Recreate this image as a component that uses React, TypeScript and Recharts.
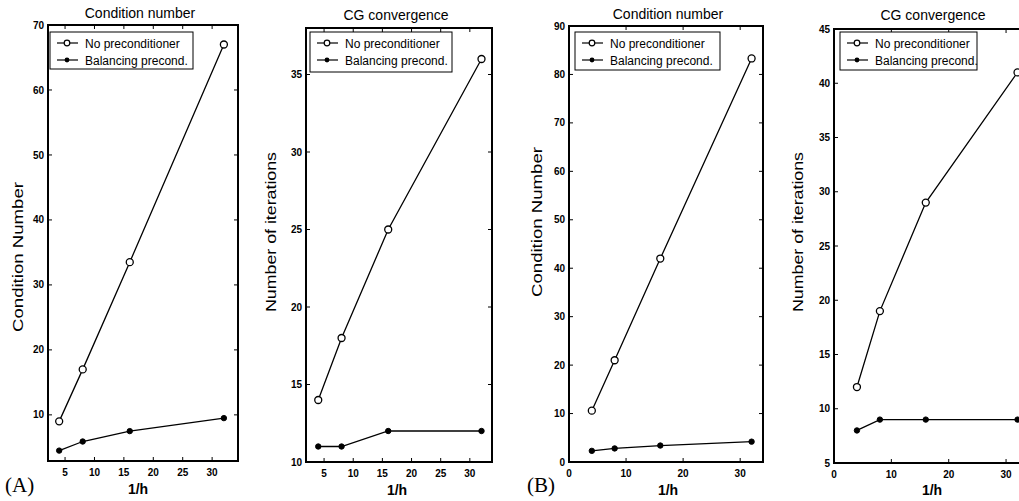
import React from 'react';
import { LineChart, Line, XAxis, YAxis } from 'recharts';

// 1/h sample points, shared by every panel
const invH = [4, 8, 16, 32];

// (A) condition number
const condNoneA = [9, 17, 33.5, 67];
const condBalA = [4.5, 5.9, 7.5, 9.5];
// (A) CG iterations
const iterNoneA = [14, 18, 25, 36];
const iterBalA = [11, 11, 12, 12];
// (B) condition number
const condNoneB = [10.6, 21, 42, 83.3];
const condBalB = [2.3, 2.8, 3.4, 4.2];
// (B) CG iterations
const iterNoneB = [12, 19, 29, 41];
const iterBalB = [8, 9, 9, 9];

const xTicksA = [5, 10, 15, 20, 25, 30];
const xTicksB = [0, 10, 20, 30];
const yTicksCondA = [10, 20, 30, 40, 50, 60, 70];
const yTicksIterA = [10, 15, 20, 25, 30, 35];
const yTicksCondB = [0, 10, 20, 30, 40, 50, 60, 70, 80, 90];
const yTicksIterB = [5, 10, 15, 20, 25, 30, 35, 40, 45];

const seriesNames = ['No preconditioner', 'Balancing precond.'];

const FONT = '"Liberation Sans", Arial, Helvetica, sans-serif';
const SERIF = '"Liberation Serif", "Times New Roman", serif';
const H = 501;
const PAD_L = 48;

type PanelCfg = {
  box: [number, number, number, number];
  xDomain: [number, number];
  xTicks: number[];
  yDomain: [number, number];
  yTicks: number[];
  none: number[];
  bal: number[];
  title: string;
  titleAt: [number, number];
  yLabel: string;
  yLabelAt: [number, number];
  yLabelLen: number;
  xLabelAt: [number, number];
  legendAt: [number, number, number, number];
  tag?: string;
  tagX?: number;
};

const panels: PanelCfg[] = [
  {
    box: [48, 25, 190, 436],
    xDomain: [2.1, 34.4], xTicks: xTicksA,
    yDomain: [2.9, 70], yTicks: yTicksCondA,
    none: condNoneA, bal: condBalA,
    title: 'Condition number', titleAt: [140, 13],
    yLabel: 'Condition Number', yLabelAt: [18, 257], yLabelLen: 150,
    xLabelAt: [138, 489],
    legendAt: [50, 32, 143, 37],
    tag: '(A)', tagX: 5,
  },
  {
    box: [306, 28, 186, 434],
    xDomain: [1.9, 33.8], xTicks: xTicksA,
    yDomain: [10, 38], yTicks: yTicksIterA,
    none: iterNoneA, bal: iterBalA,
    title: 'CG convergence', titleAt: [396, 15],
    yLabel: 'Number of iterations', yLabelAt: [271, 232], yLabelLen: 160,
    xLabelAt: [397, 490],
    legendAt: [310, 32, 142, 40],
  },
  {
    box: [569, 26, 194, 436],
    xDomain: [0, 34], xTicks: xTicksB,
    yDomain: [0, 90], yTicks: yTicksCondB,
    none: condNoneB, bal: condBalB,
    title: 'Condition number', titleAt: [668, 14],
    yLabel: 'Condition Number', yLabelAt: [537, 222], yLabelLen: 150,
    xLabelAt: [668, 490],
    legendAt: [575, 32, 145, 38],
    tag: '(B)', tagX: 527,
  },
  {
    box: [834, 29, 195, 434],
    xDomain: [0, 34], xTicks: xTicksB,
    yDomain: [5, 45], yTicks: yTicksIterB,
    none: iterNoneB, bal: iterBalB,
    title: 'CG convergence', titleAt: [933, 15],
    yLabel: 'Number of iterations', yLabelAt: [798, 232], yLabelLen: 160,
    xLabelAt: [932, 490],
    legendAt: [840, 32, 137, 38],
  },
];

const tickStyle = { fontSize: 10, fontWeight: 700, fill: '#000', fontFamily: FONT };
const blank = () => '';

// titles, axis names, panel tag and legend, drawn in the chart's own svg
const PanelText = ({ p, ox }: { p: PanelCfg; ox: number }) => {
  const [lx, ly, lw, lh] = p.legendAt;
  const yx = p.yLabelAt[0] - ox;
  const yy = p.yLabelAt[1];
  const lx0 = lx - ox;
  return (
    <g fontFamily={FONT} fill="#000">
      <text x={p.titleAt[0] - ox} y={p.titleAt[1] + 5} fontSize={14} textAnchor="middle">{p.title}</text>
      <text
        x={yx} y={yy + 5} fontSize={15} textAnchor="middle"
        textLength={p.yLabelLen} lengthAdjust="spacingAndGlyphs"
        transform={`rotate(-90 ${yx} ${yy})`}
      >
        {p.yLabel}
      </text>
      <text x={p.xLabelAt[0] - ox} y={p.xLabelAt[1] + 5} fontSize={14} fontWeight={700} textAnchor="middle">1/h</text>
      {p.tag && (
        <text x={(p.tagX ?? 0) - ox} y={492} fontSize={21} fontFamily={SERIF}>{p.tag}</text>
      )}
      <rect x={lx0} y={ly} width={lw} height={lh} fill="#fff" stroke="#000" strokeWidth={1} />
      {seriesNames.map((name, i) => {
        const ry = ly + (i === 0 ? 11 : 28);
        return (
          <g key={name}>
            <line x1={lx0 + 7} y1={ry} x2={lx0 + 28} y2={ry} stroke="#000" strokeWidth={1.2} />
            {i === 0
              ? <circle cx={lx0 + 17} cy={ry} r={2.8} fill="#fff" stroke="#000" strokeWidth={1.2} />
              : <circle cx={lx0 + 17} cy={ry} r={2.4} fill="#000" />}
            <text x={lx0 + 35} y={ry + 4.5} fontSize={12}>{name}</text>
          </g>
        );
      })}
    </g>
  );
};

const Panel = ({ p }: { p: PanelCfg }) => {
  const [bx, by, bw, bh] = p.box;
  const padR = 10;
  const ox = bx - PAD_L;
  const data = invH.map((x, i) => ({ x, none: p.none[i], bal: p.bal[i] }));
  const tl = { stroke: '#000' };
  return (
    <>
      <div style={{ position: 'absolute', left: ox, top: 0 }}>
        <LineChart
          width={bw + PAD_L + padR}
          height={H}
          data={data}
          margin={{ top: by - 5, right: padR - 1, bottom: H - (by + bh) - 30, left: PAD_L - 40 }}
        >
          <XAxis
            dataKey="x" type="number" domain={p.xDomain} ticks={p.xTicks} allowDataOverflow
            height={30} tickSize={-4} tickMargin={12} tick={tickStyle}
            stroke="#000" axisLine={false} tickLine={tl}
          />
          <XAxis
            xAxisId="top" orientation="top" dataKey="x" type="number" domain={p.xDomain} ticks={p.xTicks}
            allowDataOverflow height={5} tickSize={-4} tickFormatter={blank}
            stroke="#000" axisLine={false} tickLine={tl}
          />
          <YAxis
            type="number" domain={p.yDomain} ticks={p.yTicks} allowDataOverflow
            width={40} tickSize={-4} tickMargin={8} tick={tickStyle}
            stroke="#000" axisLine={false} tickLine={tl}
            label={() => <PanelText p={p} ox={ox} />}
          />
          <YAxis
            yAxisId="right" orientation="right" type="number" domain={p.yDomain} ticks={p.yTicks}
            allowDataOverflow width={1} tickSize={-4} tickFormatter={blank}
            stroke="#000" axisLine={false} tickLine={tl}
          />
          <Line
            type="linear" dataKey="none" name={seriesNames[0]} stroke="#000" strokeWidth={1.3}
            dot={{ r: 3.5, fill: '#fff', stroke: '#000', strokeWidth: 1.3 }} isAnimationActive={false}
          />
          <Line
            type="linear" dataKey="bal" name={seriesNames[1]} stroke="#000" strokeWidth={1.3}
            dot={{ r: 2.7, fill: '#000', stroke: '#000', strokeWidth: 1 }} isAnimationActive={false}
          />
        </LineChart>
      </div>
      {/* plot frame, laid over the chart */}
      <div
        style={{
          position: 'absolute', left: bx - 1, top: by - 1, width: bw + 2, height: bh + 2,
          boxSizing: 'border-box', border: '2px solid #000', pointerEvents: 'none', zIndex: 5,
        }}
      />
    </>
  );
};

export default function App() {
  return (
    <div
      style={{
        position: 'absolute', left: 0, top: 0, width: 1019, height: H,
        overflow: 'hidden', background: '#fff',
      }}
    >
      {panels.map((p, i) => <Panel key={i} p={p} />)}
    </div>
  );
}
